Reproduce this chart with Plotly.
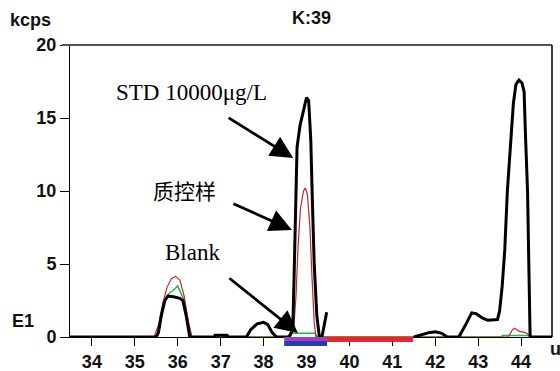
import plotly.graph_objects as go

# ---------------- data ----------------
std_x = [33.49, 35.50, 35.55, 35.62, 35.70, 35.77, 35.90, 36.05, 36.12, 36.20, 36.28,
         36.85, 36.87, 37.15, 37.17, 37.60, 37.70, 37.85, 38.00, 38.10, 38.20, 38.30,
         38.60, 38.68, 38.71, 38.74, 38.78, 38.85, 38.95, 39.00, 39.05, 39.10, 39.14,
         39.18, 39.24, 39.30, 39.36, 39.47, None,
         41.50, 41.70, 41.85, 42.00, 42.15, 42.28, 42.55, 42.70, 42.85, 42.95, 43.10,
         43.22, 43.45, 43.50, 43.56, 43.62, 43.68, 43.75, 43.82, 43.88, 43.95, 44.02,
         44.07, 44.10, 44.15, 44.18, 44.21, 44.72]
std_y = [0, 0, 0.3, 1.5, 2.5, 2.8, 2.75, 2.65, 2.5, 1.4, 0,
         0, 0.12, 0.12, 0, 0, 0.5, 0.9, 1.0, 0.85, 0.3, 0,
         0, 0.5, 4.0, 9.0, 13.0, 14.5, 15.7, 16.4, 16.2, 13.5, 9.0,
         5.0, 1.5, 0, 0, 1.7, None,
         0, 0.15, 0.3, 0.35, 0.25, 0, 0, 0.8, 1.65, 1.6, 1.3,
         1.15, 1.2, 1.8, 3.5, 6.0, 10.0, 13.0, 16.0, 17.3, 17.6, 17.4,
         16.8, 14.0, 10.0, 5.0, 0, 0]

qc_x = [33.49, 35.45, 35.55, 35.65, 35.75, 35.85, 35.95, 36.05, 36.15, 36.25, 36.33,
        38.55, 38.70, 38.76, 38.80, 38.86, 38.93, 38.97, 39.02, 39.08, 39.13, 39.18,
        39.22, 43.70, 43.80, 43.85, 43.95, 44.10, 44.20, 44.28, 44.72]
qc_y = [0, 0, 0.8, 2.3, 3.4, 4.0, 4.15, 3.9, 2.8, 1.0, 0,
        0, 0.5, 3.0, 6.0, 8.8, 10.0, 10.2, 9.8, 7.5, 4.0, 1.0,
        0, 0, 0.5, 0.6, 0.4, 0.3, 0.1, 0, 0]

blank_x = [33.49, 35.50, 35.60, 35.70, 35.80, 35.90, 36.00, 36.05, 36.15, 36.25, 36.32,
           38.60, 38.62, 39.20, 39.25, 43.55, 43.56, 44.20, 44.22, 44.72]
blank_y = [0, 0, 1.2, 2.5, 3.0, 3.2, 3.5, 3.2, 2.5, 1.0, 0,
           0, 0.25, 0.25, 0, 0, 0.1, 0.1, 0, 0]

# integration windows drawn under the axis
win_x0 = [38.48, 38.48, 39.48]
win_x1 = [39.48, 39.48, 41.48]
win_color = ["#a040c0", "#2a3cb0", "#e8262a"]

x_ticks = [34, 35, 36, 37, 38, 39, 40, 41, 42, 43, 44]
y_ticks = [0, 5, 10, 15, 20]

# ---------------- figure ----------------
fig = go.Figure()
fig.add_trace(go.Scatter(x=blank_x, y=blank_y, mode="lines",
                         line=dict(color="#2bb24c", width=1.5), name="Blank"))
fig.add_trace(go.Scatter(x=qc_x, y=qc_y, mode="lines",
                         line=dict(color="#c0282c", width=1.2), name="QC"))
fig.add_trace(go.Scatter(x=std_x, y=std_y, mode="lines", connectgaps=False,
                         line=dict(color="#000000", width=3), name="STD"))

PH = 292.0  # plot height in px (for paper offsets of the bars)
bar_y = [(0, -4 / PH), (-4 / PH, -9 / PH), (0, -5 / PH)]
for x0, x1, c, (y0, y1) in zip(win_x0, win_x1, win_color, bar_y):
    fig.add_shape(type="rect", xref="x", yref="paper", x0=x0, x1=x1, y0=y0, y1=y1,
                  fillcolor=c, line=dict(width=0), layer="above")

tickfont = dict(family="Liberation Sans, Arial", size=18, color="#111111", weight="bold")

fig.update_layout(
    width=560, height=371,
    margin=dict(l=70, r=8, t=45, b=34),
    paper_bgcolor="white", plot_bgcolor="white",
    showlegend=False,
    xaxis=dict(range=[33.49, 44.72], tickvals=x_ticks, ticks="outside", ticklen=8,
               tickcolor="#000", tickwidth=1, showgrid=False, zeroline=False,
               showline=True, linecolor="#000", linewidth=1, mirror=False,
               tickfont=tickfont, automargin=False),
    yaxis=dict(range=[0, 20], tickvals=y_ticks, ticks="outside", ticklen=9,
               tickcolor="#000", tickwidth=1, showgrid=False, zeroline=False,
               showline=True, linecolor="#000", linewidth=1, mirror=False,
               tickfont=tickfont, automargin=False),
)

# frame lines: top (gray) and right border
fig.add_shape(type="line", xref="paper", yref="paper", x0=-8 / 482, x1=1, y0=1, y1=1,
              line=dict(color="#555555", width=2), layer="above")
fig.add_shape(type="line", xref="paper", yref="paper", x0=1, x1=1, y0=0, y1=1,
              line=dict(color="#000000", width=1.5), layer="above")

lab = dict(family="Liberation Sans, Arial", size=18, color="#111111", weight="bold")
fig.add_annotation(xref="paper", yref="paper", x=-62 / 482, y=1 + 25 / PH,
                   xanchor="left", yanchor="middle", text="kcps", showarrow=False, font=lab)
fig.add_annotation(xref="paper", yref="paper", x=(311 - 70) / 482, y=1 + 27 / PH,
                   xanchor="center", yanchor="middle", text="K:39", showarrow=False, font=lab)
fig.add_annotation(xref="paper", yref="paper", x=-60 / 482, y=16 / PH,
                   xanchor="left", yanchor="middle", text="E1", showarrow=False, font=lab)
fig.add_annotation(xref="paper", yref="paper", x=(548 - 70) / 482, y=-12 / PH,
                   xanchor="left", yanchor="middle", text="u", showarrow=False, font=lab)

serif = dict(family="Liberation Serif, Times New Roman", size=23, color="#000")
cjk = dict(family="Noto Sans CJK SC", size=21, color="#000")
fig.add_annotation(xref="paper", yref="paper", x=(191 - 70) / 482, y=(337 - 92) / PH,
                   xanchor="center", yanchor="middle", text="STD 10000μg/L",
                   showarrow=False, font=serif)
fig.add_annotation(xref="paper", yref="paper", x=(184 - 70) / 482, y=(337 - 190) / PH,
                   xanchor="center", yanchor="middle", text="质控样",
                   showarrow=False, font=cjk)
fig.add_annotation(xref="paper", yref="paper", x=(192 - 70) / 482, y=(337 - 252) / PH,
                   xanchor="center", yanchor="middle", text="Blank",
                   showarrow=False, font=serif)

# arrows (tip in data coords, tail offset in px)
arrows = [(38.69, 12.26, -66, -41), (38.66, 7.33, -60, -27), (38.80, 0.27, -70, -56)]
for tx, ty, ax, ay in arrows:
    fig.add_annotation(x=tx, y=ty, xref="x", yref="y", ax=ax, ay=ay, text="",
                       showarrow=True, arrowhead=2, arrowsize=1.6, arrowwidth=2.8,
                       arrowcolor="#000")

fig.write_html("out.html", config={"displayModeBar": False},
               post_script="document.body.style.margin='0';document.body.style.overflow='hidden';")
